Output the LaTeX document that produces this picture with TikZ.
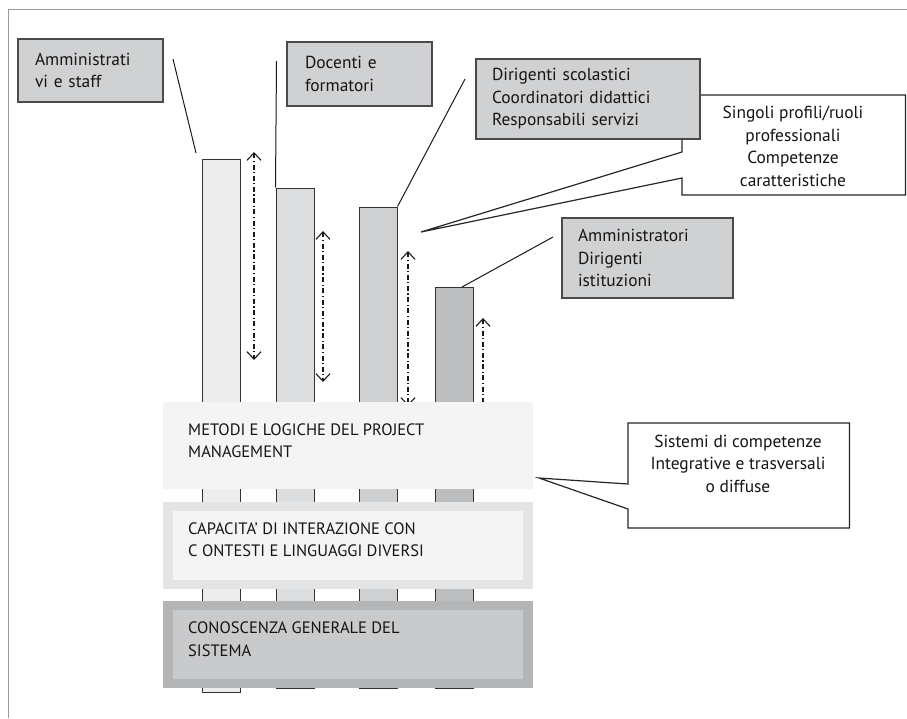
\documentclass[tikz,border=0pt]{standalone}
\usepackage{fontspec}
\setmainfont{PT Sans}
\usetikzlibrary{arrows.meta}
\definecolor{txt}{HTML}{151515}
\definecolor{framecol}{HTML}{9A9A9A}
\definecolor{labelfill}{HTML}{D0D1D3}
\definecolor{labelline}{HTML}{4A4A4A}
\definecolor{barA}{HTML}{EDEDED}
\definecolor{barB}{HTML}{DCDDDF}
\definecolor{barC}{HTML}{CFD0D2}
\definecolor{barD}{HTML}{BCBDBF}
\definecolor{pale}{HTML}{F3F4F3}
\definecolor{midgray}{HTML}{E3E4E5}
\definecolor{darkouter}{HTML}{B4B5B7}
\definecolor{darkinner}{HTML}{C9CACC}
\begin{document}
\begin{tikzpicture}[x=1pt,y=-1pt,
  every node/.style={text=txt,font=\fontsize{17.4}{22.5}\selectfont},
  labelbox/.style={draw=labelline,line width=1.4pt,fill=labelfill,align=left,inner ysep=0pt},
  bar/.style={draw=black!80,line width=1pt,minimum width=38pt,inner sep=0pt},
  band/.style={minimum width=370pt,minimum height=87pt,inner sep=0pt},
  bandin/.style={minimum width=350pt,minimum height=69pt,inner sep=0pt},
  bandtext/.style={anchor=west,align=left,inner sep=0pt,font=\fontsize{16.5}{22.5}\selectfont},
  callout/.style={draw=black!85,line width=1.2pt,fill=white,line join=miter},
  leader/.style={draw=black!90,line width=1pt},
  span/.style={draw=black!90,line width=1.1pt,
    dash pattern=on 5pt off 2.5pt on 1.2pt off 2.5pt,
    {Straight Barb[length=7.5pt,width=14pt,line width=1.1pt]}-{Straight Barb[length=7.5pt,width=14pt,line width=1.1pt]}}
]
\useasboundingbox (0,0) rectangle (907,718);

% outer frame: top and left rules only
\draw[framecol,line width=1pt] (8,718) -- (8,9) -- (907,9);

% vertical bars, one per professional group
\node[bar,fill=barA,minimum height=533pt] (b1) at (221,425.5) {};
\node[bar,fill=barB,minimum height=500pt] (b2) at (295,438) {};
\node[bar,fill=barC,minimum height=481pt] (b3) at (378,447.5) {};
\node[bar,fill=barD,minimum height=401pt] (b4) at (454,487.5) {};

% dash-dotted range arrows beside each bar
\coordinate (s1t) at (254,152); \coordinate (s1b) at (254,360);
\coordinate (s2t) at (323,231); \coordinate (s2b) at (323,382);
\coordinate (s3t) at (408,251); \coordinate (s3b) at (408,406);
\coordinate (s4t) at (483,318); \coordinate (s4b) at (483,420);
\draw[span] (s1t) -- (s1b);
\draw[span] (s2t) -- (s2b);
\draw[span] (s3t) -- (s3b);
\draw[span] (s4t) -- (s4b);

% horizontal bands of shared competences
\node[band,fill=pale] (pm) at (348,445.5) {};
\node[bandtext] (pmt) at (188,440.5) {METODI E LOGICHE DEL PROJECT\\MANAGEMENT};

\node[band,fill=midgray] (ci) at (348,545) {};
\node[bandin,fill=pale] (cii) at (ci.center) {};
\node[bandtext] (cit) at (188,539.5) {CAPACITA’ DI INTERAZIONE CON\\C ONTESTI E LINGUAGGI DIVERSI};

\node[band,fill=darkouter] (cg) at (348,644.5) {};
\node[bandin,fill=darkinner] (cgi) at (cg.center) {};
\node[bandtext] (cgt) at (188,639) {CONOSCENZA GENERALE DEL\\SISTEMA};

% callout for the individual profiles
\coordinate (ptip) at (421,232);
\draw[callout] (682,95) -- (905.5,95) -- (905.5,195) -- (682,195) -- (682,178)
  -- (ptip) -- (682,152) -- cycle;
\node[align=center,inner sep=0pt] (prof) at (793,146.5)
  {Singoli profili/ruoli\\professionali\\Competenze\\caratteristiche};

% callout for the transversal competences
\coordinate (stip) at (539,478);
\draw[callout] (628,423) -- (849.5,423) -- (849.5,528) -- (628,528) -- (628,509)
  -- (stip) -- (628,484) -- cycle;
\node[align=center,inner sep=0pt] (sist) at (738,463.5)
  {Sistemi di competenze\\Integrative e trasversali\\o diffuse};

% group labels
\node[labelbox,text width=111pt,inner xsep=17pt,minimum height=63pt] (ams) at (90.5,70.5)
  {Amministrati\\vi e staff};
\node[labelbox,text width=109pt,inner xsep=18pt,minimum height=64pt] (doc) at (359.5,74)
  {Docenti e\\formatori};
\node[labelbox,text width=192pt,inner xsep=16pt,minimum height=80pt] (dir) at (588,99)
  {Dirigenti scolastici\\Coordinatori didattici\\Responsabili servizi};
\node[labelbox,text width=139pt,inner xsep=16pt,minimum height=80pt] (amm) at (647.5,258)
  {Amministratori\\Dirigenti\\istituzioni};

% leader lines from labels to bars
\coordinate (l1a) at (173,59); \coordinate (l1b) at (196,153);
\draw[leader] (l1a) -- (l1b);
\coordinate (l2a) at (276.5,61);
\draw[leader] (l2a) -- (b2.north west);
\coordinate (l3a) at (465,79);
\draw[leader] (l3a) -- (b3.north east);
\coordinate (l4a) at (553,237); \coordinate (l4b) at (462,287);
\draw[leader] (l4a) -- (l4b);
\end{tikzpicture}
\end{document}
